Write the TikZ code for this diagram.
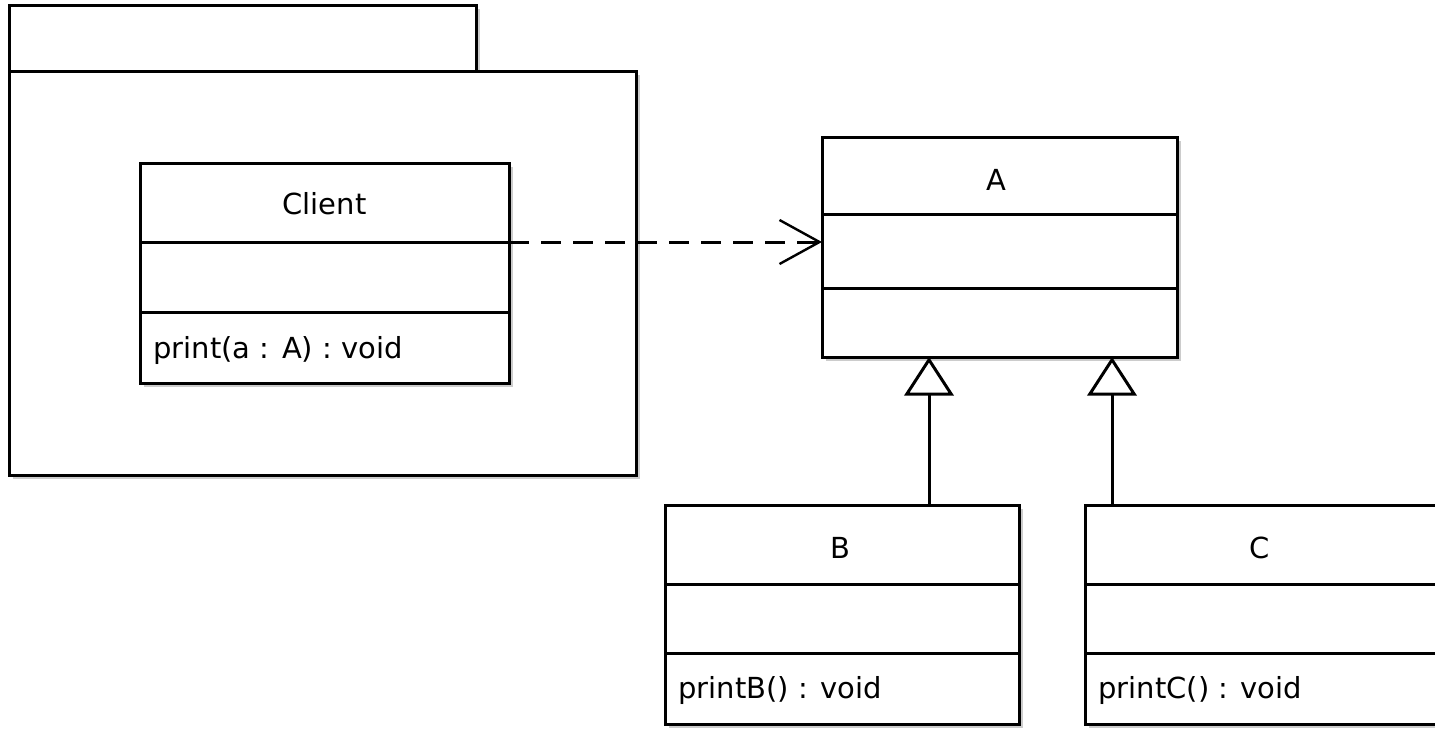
\documentclass[tikz,border=0pt]{standalone}
\usepackage{fontspec}
\setmainfont{DejaVu Sans}
\usepackage{xcolor}
\usepackage{tikz}
\usetikzlibrary{arrows.meta,shadows}

\begin{document}
\begin{tikzpicture}[x=0.75pt,y=0.75pt,yscale=-1,xscale=1,
    line width=2.25pt,
    umlbox/.style={draw, fill=white, rectangle, inner sep=0pt, outer sep=0pt,
      drop shadow={shadow xshift=3pt, shadow yshift=-3pt, fill=black!20, opacity=1}},
    umltext/.style={font=\fontsize{21.75pt}{26pt}\selectfont, inner sep=0.75pt},
    depend/.style={dash pattern=on 15pt off 9pt, -{Straight Barb[length=30pt,width=33pt,line width=1.8pt]}},
    inherit/.style={-{Triangle[open,length=29pt,width=37pt,fill=white]}}]
\clip (0,0) rectangle (1435,729);
\useasboundingbox (0,0) rectangle (1435,729);

%Shape: Package tab and body
\node[umlbox, minimum width=350.25pt, minimum height=49.5pt] (pkgtab) at (242.5,38) {};
\node[umlbox, minimum width=470.25pt, minimum height=303pt] (pkg) at (322.5,273) {};

%Shape: Class Client
\node[umlbox, minimum width=276.75pt, minimum height=165pt] (client) at (324.5,273) {};
\draw (client.west |- 0,242) -- (client.east |- 0,242) ;
\draw (client.west |- 0,312) -- (client.east |- 0,312) ;
% Text Node
\node[umltext] (clientname) at (324.5,204) {Client};
% Text Node
\node[umltext, anchor=west] (clientop) at (151,350) {print(a : A) : void};

%Shape: Class A
\node[umlbox, minimum width=266.25pt, minimum height=165pt] (A) at (999.5,247) {};
\draw (A.west |- 0,214) -- (A.east |- 0,214) ;
\draw (A.west |- 0,288) -- (A.east |- 0,288) ;
% Text Node
\node[umltext] (aname) at (996,180) {A};

%Shape: Class B
\node[umlbox, minimum width=265.5pt, minimum height=164.25pt] (B) at (842,614.5) {};
\draw (B.west |- 0,584) -- (B.east |- 0,584) ;
\draw (B.west |- 0,653) -- (B.east |- 0,653) ;
% Text Node
\node[umltext] (bname) at (840,548) {B};
% Text Node
\node[umltext, anchor=west] (bop) at (676,690) {printB() : void};

%Shape: Class C
\node[umlbox, minimum width=266.25pt, minimum height=164.25pt] (C) at (1262.5,614.5) {};
\draw (C.west |- 0,584) -- (C.east |- 0,584) ;
\draw (C.west |- 0,653) -- (C.east |- 0,653) ;
% Text Node
\node[umltext] (cname) at (1260,548) {C};
% Text Node
\node[umltext, anchor=west] (cop) at (1096,690) {printC() : void};

%Dependency Client -> A
\coordinate (dep) at (client.east |- 0,242) ;
\draw[depend] (dep) -- (A.west |- dep) ;

%Generalizations B -> A, C -> A
\coordinate (genb) at (929,0) ;
\coordinate (genc) at (1112,0) ;
\draw[inherit] (B.north -| genb) -- (A.south -| genb) ;
\draw[inherit] (C.north -| genc) -- (A.south -| genc) ;
\end{tikzpicture}
\end{document}
